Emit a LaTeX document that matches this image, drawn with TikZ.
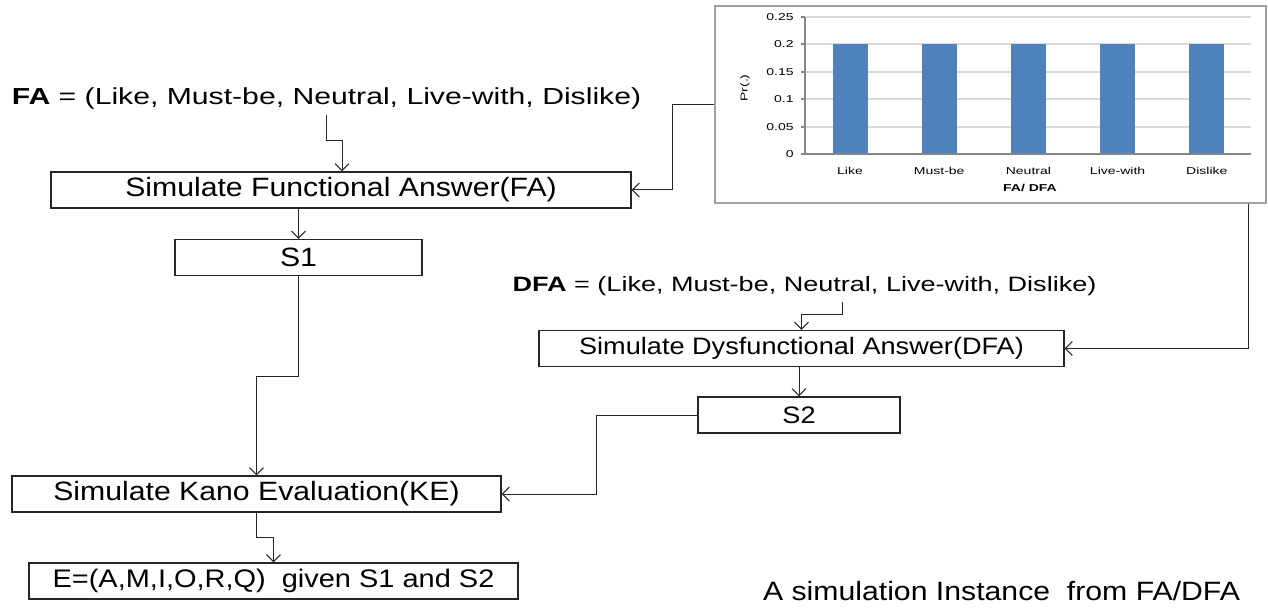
\documentclass[tikz,border=0pt]{standalone}
\usepackage{fontspec}
\setmainfont{Liberation Sans}
\newfontfamily\mainf{Liberation Sans}[FakeStretch=1.14]
\newfontfamily\linef{Liberation Sans}[FakeStretch=1.3]
\newfontfamily\chartf{Liberation Sans}[FakeStretch=1.4]
\usetikzlibrary{arrows.meta}
\definecolor{barblue}{HTML}{4F81BD}
\definecolor{gridgray}{HTML}{D9D9D9}
\definecolor{axisgray}{HTML}{868686}
\definecolor{framegray}{HTML}{A0A0A0}
\begin{document}
\begin{tikzpicture}[x=0.5pt,y=-0.5pt,
  mainfont/.style={font=\mainf\fontsize{13.25pt}{15pt}\selectfont},
  smallfont/.style={font=\mainf\fontsize{11.9pt}{14pt}\selectfont},
  box/.style={draw=black!85, line width=0.6pt, minimum height=18pt, inner sep=0pt, mainfont},
  lbl/.style={inner sep=0pt, mainfont},
  setline/.style={inner sep=0pt, font=\linef\fontsize{11.6pt}{14pt}\selectfont},
  setlinesmall/.style={inner sep=0pt, font=\linef\fontsize{10.4pt}{12pt}\selectfont},
  arr/.style={draw=black!85, line width=0.5pt, -{Straight Barb[length=3.5pt,width=7pt]}},
  tickl/.style={inner sep=0pt, font=\chartf\fontsize{5pt}{6pt}\selectfont},
  gridl/.style={draw=gridgray, line width=0.6pt},
  axisl/.style={draw=axisgray, line width=0.8pt}]
\useasboundingbox (0,0) rectangle (1268,609);

% chart
\node[draw=framegray, line width=0.6pt, minimum width=275.5pt, minimum height=98.5pt, inner sep=0pt] (chart) at (990.5,104.5) {};
\foreach \yy in {17,44,72,99,127} \draw[gridl] (805,\yy) -- (1251,\yy);
\foreach \i in {0,...,4} \fill[barblue] ({832.5+89.2*\i},44) rectangle ++(35,110);
\draw[axisl] (805,17) -- (805,154) -- (1251,154);
\foreach \v/\yy [count=\k] in {0.25/17,0.2/44,0.15/72,0.1/99,0.05/127,0/154}{
  \draw[axisl] (801,\yy) -- (805,\yy);
  \node[tickl, anchor=east] (tk\k) at (794,\yy) {\v};
}
\foreach \t [count=\k from 0] in {Like,Must-be,Neutral,Live-with,Dislike}
  \node[tickl] (cat\k) at ({850+89.2*\k},171) {\t};
\node[tickl, font=\chartf\bfseries\fontsize{5pt}{6pt}\selectfont] (xlab) at (1030,188) {FA/ DFA};
\node[tickl, rotate=90] (ylab) at (745,88) {Pr(.)};

% texts
\node[setline, anchor=base] (fa) at (326.5,105) {\textbf{FA} = (Like, Must-be, Neutral, Live-with, Dislike)};
\node[setlinesmall, anchor=base] (dfa) at (804.5,292) {\textbf{DFA} = (Like, Must-be, Neutral, Live-with, Dislike)};
\node[lbl, anchor=base] (cap) at (1001.5,600) {A simulation Instance~ from FA/DFA};

% boxes
\node[box, minimum width=290pt] (fabox) at (341,190) {Simulate Functional Answer(FA)};
\node[box, minimum width=123.5pt] (s1) at (298.5,257.5) {S1};
\node[box, smallfont, minimum width=262.5pt] (dfabox) at (801.5,348.5) {Simulate Dysfunctional Answer(DFA)};
\node[box, smallfont, minimum width=101pt] (s2) at (799,415) {S2};
\node[box, minimum width=244.5pt] (ke) at (256.5,494) {Simulate Kano Evaluation(KE)};
\node[box, font=\mainf\fontsize{12.7pt}{15pt}\selectfont, minimum width=244.5pt] (e) at (273.5,581) {E=(A,M,I,O,R,Q)~ given S1 and S2};

% connectors
\draw[arr, shorten <=2.5pt] (fa.south) |- (342,141) -- (342,141 |- fabox.north);
\draw[arr] (chart.west) -- ++(-42,0) |- (fabox.east);
\draw[arr] (fabox.south -| s1.north) -- (s1.north);
\draw[arr] (s1.south) -- ++(0,100) -| (ke.north);
\draw[arr, shorten <=2.5pt] (842,0 |- dfa.south) -- (842,314) -| (dfabox.north);
\draw[arr] (1248,0 |- chart.south) |- (dfabox.east);
\draw[arr] (dfabox.south -| s2.north) -- (s2.north);
\draw[arr] (s2.west) -- ++(-101,0) |- (ke.east);
\draw[arr] (ke.south) -- ++(0,25) -| (e.north);
\end{tikzpicture}
\end{document}
